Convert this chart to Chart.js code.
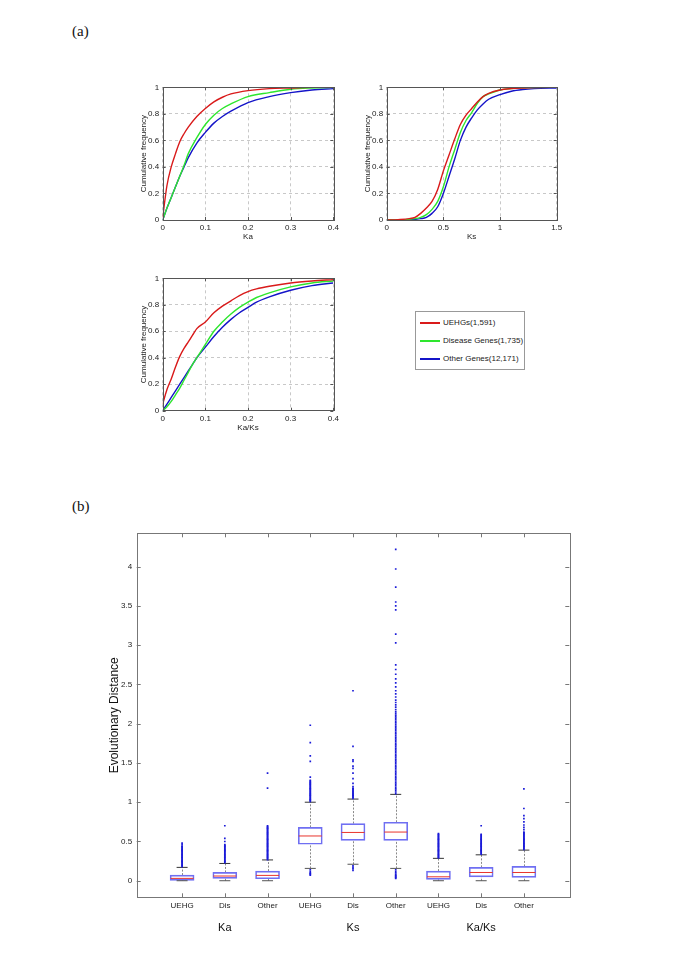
<!DOCTYPE html>
<html>
<head>
<meta charset="utf-8">
<script src="https://cdn.jsdelivr.net/npm/chart.js@4.4.0/dist/chart.umd.min.js"></script>
<style>
  html, body { margin:0; padding:0; background:#fff; }
  body { width:685px; height:969px; position:relative; overflow:hidden; font-family: Arial, "Liberation Sans", sans-serif; }
  canvas { position:absolute; }
  .panel { position:absolute; font-family: "Liberation Serif", "Times New Roman", serif; font-size:15px; color:#111; }
  #legend { position:absolute; left:415px; top:311px; width:108px; height:57px; border:1px solid #999; background:#fff; font-size:8px; color:#222; }
  .lrow { position:absolute; left:4px; height:10px; line-height:10px; width:104px; }
  .lline { position:absolute; left:0; top:4px; width:20px; height:1.5px; }
  .ltext { position:absolute; left:23px; top:0; white-space:nowrap; }
</style>
</head>
<body>
<div class="panel" style="left:72px; top:23px;">(a)</div>
<div class="panel" style="left:72px; top:498px;">(b)</div>

<canvas id="c1" width="240" height="180" style="left:120px; top:70px;"></canvas>
<canvas id="c2" width="240" height="180" style="left:344px; top:70px;"></canvas>
<canvas id="c3" width="240" height="180" style="left:120px; top:261px;"></canvas>
<div id="legend"></div>
<canvas id="c4" width="540" height="430" style="left:60px; top:520px;"></canvas>

<script>
// ---------------- DATA ----------------
const seriesNames = ['UEHGs(1,591)', 'Disease Genes(1,735)', 'Other Genes(12,171)'];
const seriesColors = ['#d91a1a', '#2ee62e', '#1414c8'];

// Panel (a) Ka
const kaX     = [0,0.01,0.02,0.03,0.04,0.05,0.06,0.08,0.10,0.12,0.14,0.16,0.20,0.25,0.30,0.35,0.40];
const kaRed   = [0.02,0.26,0.40,0.50,0.59,0.65,0.70,0.78,0.84,0.89,0.925,0.95,0.975,0.99,0.995,1,1];
const kaGreen = [0,0.09,0.17,0.25,0.33,0.41,0.50,0.62,0.72,0.79,0.84,0.875,0.93,0.96,0.985,0.995,1];
const kaBlue  = [0,0.09,0.17,0.25,0.33,0.40,0.47,0.58,0.66,0.73,0.78,0.82,0.885,0.93,0.96,0.98,0.99];

// Panel (a) Ks
const ksX     = [0,0.1,0.2,0.25,0.3,0.35,0.4,0.45,0.5,0.55,0.6,0.65,0.7,0.75,0.8,0.85,0.9,1.0,1.1,1.2,1.3,1.5];
const ksRed   = [0,0.003,0.01,0.02,0.05,0.09,0.14,0.23,0.37,0.49,0.61,0.72,0.79,0.84,0.89,0.93,0.955,0.98,0.99,0.995,0.998,1];
const ksGreen = [0,0,0.005,0.01,0.02,0.04,0.08,0.14,0.25,0.40,0.53,0.66,0.75,0.81,0.88,0.93,0.95,0.98,0.99,0.997,0.999,1];
const ksBlue  = [0,0,0.002,0.005,0.01,0.02,0.05,0.10,0.20,0.33,0.46,0.60,0.70,0.77,0.83,0.875,0.91,0.945,0.97,0.983,0.99,0.995];

// Panel (a) Ka/Ks
const kksX     = [0,0.01,0.02,0.03,0.04,0.05,0.06,0.07,0.08,0.10,0.12,0.14,0.16,0.18,0.20,0.22,0.25,0.30,0.35,0.40];
const kksRed   = [0.05,0.16,0.24,0.33,0.41,0.47,0.52,0.57,0.62,0.67,0.74,0.79,0.83,0.87,0.90,0.92,0.94,0.965,0.98,0.99];
const kksGreen = [0,0.03,0.07,0.12,0.17,0.23,0.29,0.35,0.40,0.50,0.60,0.67,0.73,0.78,0.82,0.855,0.89,0.935,0.965,0.98];
const kksBlue  = [0,0.05,0.10,0.15,0.20,0.25,0.30,0.35,0.40,0.48,0.56,0.63,0.69,0.74,0.78,0.82,0.86,0.91,0.945,0.965];

// Panel (b) box plot
const boxLabels = ['UEHG','Dis','Other','UEHG','Dis','Other','UEHG','Dis','Other'];
const boxPos    = [1,2,3,4,5,6,7,8,9];
const groupLabels = ['Ka','Ks','Ka/Ks'];
const groupPos    = [2,5,8];
const boxQ1   = [0.005,0.03,0.025,0.465,0.515,0.515,0.017,0.05,0.043];
const boxMed  = [0.03,0.06,0.068,0.57,0.615,0.62,0.05,0.105,0.105];
const boxQ3   = [0.072,0.106,0.123,0.68,0.728,0.745,0.123,0.17,0.183];
const whiskLo = [0,0,0,0.157,0.21,0.157,0,0,0];
const whiskHi = [0.17,0.22,0.265,1.0,1.04,1.10,0.285,0.33,0.39];

const outKaUEHG = [0.18,0.19,0.2,0.21,0.22,0.23,0.24,0.25,0.26,0.27,0.28,0.29,0.3,0.31,0.32,0.33,0.34,0.35,0.36,0.37,0.38,0.39,0.4,0.41,0.42,0.43,0.44,0.46,0.48];
const outKaDis  = [0.23,0.24,0.25,0.26,0.27,0.28,0.29,0.3,0.31,0.32,0.33,0.34,0.35,0.36,0.37,0.38,0.39,0.4,0.41,0.42,0.43,0.44,0.45,0.46,0.5,0.54,0.7];
const outKaOther = [0.27,0.28,0.29,0.3,0.31,0.32,0.33,0.34,0.35,0.36,0.37,0.38,0.39,0.4,0.41,0.42,0.43,0.44,0.45,0.46,0.47,0.48,0.49,0.5,0.51,0.52,0.53,0.54,0.55,0.56,0.57,0.58,0.59,0.6,0.61,0.62,0.63,0.64,0.65,0.66,0.67,0.68,0.69,0.7,1.18,1.37];
const outKsUEHG = [0.07,0.08,0.09,0.1,0.12,0.14,1.01,1.02,1.03,1.04,1.05,1.06,1.07,1.08,1.09,1.1,1.11,1.12,1.13,1.14,1.15,1.16,1.17,1.18,1.19,1.2,1.21,1.22,1.23,1.24,1.25,1.26,1.27,1.28,1.32,1.52,1.59,1.76,1.98];
const outKsDis  = [0.13,0.15,0.17,0.19,1.05,1.06,1.07,1.08,1.09,1.1,1.11,1.12,1.13,1.14,1.15,1.16,1.17,1.18,1.2,1.24,1.3,1.37,1.43,1.46,1.52,1.54,1.71,2.42];
const outKsOther = [0.03,0.04,0.05,0.06,0.07,0.08,0.1,0.12,0.14,
  1.11,1.13,1.15,1.17,1.19,1.21,1.23,1.25,1.27,1.29,1.31,1.33,1.35,1.37,1.39,1.41,1.43,1.45,1.47,1.49,1.51,1.53,1.55,1.57,1.59,1.61,1.63,1.65,1.67,1.69,1.71,1.73,1.75,1.77,1.79,1.81,1.83,1.85,1.87,1.89,1.91,1.93,1.95,1.97,1.99,2.01,2.03,2.05,2.07,2.09,2.11,2.13,2.15,2.18,2.21,2.24,2.27,2.3,2.34,2.38,2.42,2.47,2.52,2.57,2.63,2.69,2.75,
  3.03,3.14,3.45,3.5,3.55,3.74,3.97,4.22];
const outKksUEHG = [0.29,0.3,0.31,0.32,0.33,0.34,0.35,0.36,0.37,0.38,0.39,0.4,0.41,0.42,0.43,0.44,0.45,0.46,0.47,0.48,0.49,0.5,0.51,0.52,0.53,0.54,0.55,0.56,0.57,0.58,0.59,0.6];
const outKksDis  = [0.34,0.35,0.36,0.37,0.38,0.39,0.4,0.41,0.42,0.43,0.44,0.45,0.46,0.47,0.48,0.49,0.5,0.51,0.52,0.53,0.54,0.55,0.56,0.57,0.58,0.59,0.7];
const outKksOther = [0.4,0.41,0.42,0.43,0.44,0.45,0.46,0.47,0.48,0.49,0.5,0.51,0.52,0.53,0.54,0.55,0.56,0.57,0.58,0.59,0.6,0.61,0.62,0.65,0.68,0.71,0.75,0.79,0.83,0.92,1.17];
const outliers = [outKaUEHG,outKaDis,outKaOther,outKsUEHG,outKsDis,outKsOther,outKksUEHG,outKksDis,outKksOther];

// ---------------- HELPERS ----------------
Chart.defaults.font.family = 'Arial, "Liberation Sans", sans-serif';
Chart.defaults.color = '#222';
Chart.defaults.animation = false;

const pts = (xs, ys) => xs.map((x, i) => ({x, y: ys[i]}));
const fmt = v => String(Math.round(v * 1000) / 1000);

const framePlugin = {
  id: 'frame',
  afterDraw(chart, args, opts) {
    const {ctx, chartArea: a, scales} = chart;
    ctx.save();
    ctx.strokeStyle = opts.color || '#444';
    ctx.lineWidth = 1;
    ctx.strokeRect(Math.round(a.left) + 0.5, Math.round(a.top) + 0.5, Math.round(a.right - a.left), Math.round(a.bottom - a.top));
    const tl = opts.tick || 3;
    const xs = scales.x, ys = scales.y;
    ctx.beginPath();
    xs.ticks.forEach(t => {
      const px = Math.round(xs.getPixelForValue(t.value)) + 0.5;
      ctx.moveTo(px, a.bottom); ctx.lineTo(px, a.bottom - tl);
      ctx.moveTo(px, a.top); ctx.lineTo(px, a.top + tl);
    });
    ys.ticks.forEach(t => {
      const py = Math.round(ys.getPixelForValue(t.value)) + 0.5;
      ctx.moveTo(a.left, py); ctx.lineTo(a.left + tl, py);
      ctx.moveTo(a.right, py); ctx.lineTo(a.right - tl, py);
    });
    ctx.stroke();
    ctx.restore();
  }
};

function cdfChart(id, xArr, reds, greens, blues, xMax, xStep, xTitle, padRight, xHeight) {
  return new Chart(document.getElementById(id), {
    type: 'line',
    data: {
      datasets: [
        {label: seriesNames[0], data: pts(xArr, reds), borderColor: seriesColors[0]},
        {label: seriesNames[1], data: pts(xArr, greens), borderColor: seriesColors[1]},
        {label: seriesNames[2], data: pts(xArr, blues), borderColor: seriesColors[2]}
      ]
    },
    options: {
      responsive: false,
      devicePixelRatio: 1,
      animation: false,
      layout: {padding: {left: 0, top: 17.3, right: padRight, bottom: 0}},
      elements: {line: {borderWidth: 1.4, cubicInterpolationMode: 'monotone'}, point: {radius: 0}},
      plugins: {legend: {display: false}, tooltip: {enabled: false}, frame: {color: '#555', tick: 3}},
      scales: {
        x: {
          type: 'linear', min: 0, max: xMax,
          ticks: {stepSize: xStep, font: {size: 8}, padding: 3, maxRotation: 0, callback: fmt},
          grid: {color: '#c8c8c8', drawTicks: false},
          border: {display: false, dash: [3, 3]},
          title: {display: true, text: xTitle, font: {size: 8}, padding: {top: 0, bottom: 8.2}},
          afterFit: s => { s.height = xHeight; }
        },
        y: {
          type: 'linear', min: 0, max: 1,
          ticks: {stepSize: 0.2, font: {size: 8}, padding: 3.5, callback: fmt},
          grid: {color: '#c8c8c8', drawTicks: false},
          border: {display: false, dash: [3, 3]},
          title: {display: true, text: 'Cumulative frequency', font: {size: 8}, padding: {top: 18.5, bottom: 0}},
          afterFit: s => { s.width = 42.7; }
        }
      }
    },
    plugins: [framePlugin]
  });
}

cdfChart('c1', kaX, kaRed, kaGreen, kaBlue, 0.4, 0.1, 'Ka', 26.7, 30);
cdfChart('c2', ksX, ksRed, ksGreen, ksBlue, 1.5, 0.5, 'Ks', 27.3, 30);
cdfChart('c3', kksX, kksRed, kksGreen, kksBlue, 0.4, 0.1, 'Ka/Ks', 26.7, 30.3);

// Legend (HTML)
const leg = document.getElementById('legend');
seriesNames.forEach((n, i) => {
  const row = document.createElement('div');
  row.className = 'lrow';
  row.style.top = (6 + i * 18) + 'px';
  const line = document.createElement('div');
  line.className = 'lline';
  line.style.background = seriesColors[i];
  const txt = document.createElement('div');
  txt.className = 'ltext';
  txt.textContent = n;
  row.appendChild(line);
  row.appendChild(txt);
  leg.appendChild(row);
});

// ---------------- BOX PLOT ----------------
const whiskerPlugin = {
  id: 'whiskers',
  beforeDatasetsDraw(chart) {
    const {ctx, scales: {x, y}} = chart;
    ctx.save();
    ctx.strokeStyle = '#8a8a8a';
    ctx.lineWidth = 1;
    ctx.setLineDash([2, 1.5]);
    boxPos.forEach((p, i) => {
      const px = Math.round(x.getPixelForValue(p)) + 0.5;
      ctx.beginPath();
      ctx.moveTo(px, y.getPixelForValue(boxQ3[i]));
      ctx.lineTo(px, y.getPixelForValue(whiskHi[i]));
      ctx.moveTo(px, y.getPixelForValue(whiskLo[i]));
      ctx.lineTo(px, y.getPixelForValue(boxQ1[i]));
      ctx.stroke();
    });
    ctx.restore();
  },
  afterDraw(chart) {
    const {ctx, scales: {x}} = chart;
    ctx.save();
    ctx.fillStyle = '#111';
    ctx.font = '11px Arial, "Liberation Sans", sans-serif';
    ctx.textAlign = 'center';
    ctx.textBaseline = 'middle';
    groupLabels.forEach((g, i) => ctx.fillText(g, x.getPixelForValue(groupPos[i]), 408));
    ctx.restore();
  }
};

const outlierData = [];
outliers.forEach((arr, i) => arr.forEach(v => outlierData.push({x: boxPos[i], y: v})));

new Chart(document.getElementById('c4'), {
  type: 'bar',
  data: {
    datasets: [
      {
        type: 'line', label: 'outliers', data: outlierData, showLine: false,
        pointStyle: 'rect', pointRadius: 1.2, pointBackgroundColor: '#1a1ad8', pointBorderWidth: 0, order: 0
      },
      {
        type: 'bar', label: 'box', data: boxPos.map((p, i) => ({x: p, y: [boxQ1[i], boxQ3[i]]})),
        backgroundColor: 'rgba(255,255,255,0)', borderColor: '#6f6ff2', borderWidth: 1, borderSkipped: false,
        barThickness: 24, order: 3
      },
      {
        type: 'line', label: 'median', data: boxPos.map((p, i) => ({x: p, y: boxMed[i]})), showLine: false,
        pointStyle: 'line', pointRadius: 11.5, pointBorderColor: '#e8342c', pointBorderWidth: 1, order: 1
      },
      {
        type: 'line', label: 'capHi', data: boxPos.map((p, i) => ({x: p, y: whiskHi[i]})), showLine: false,
        pointStyle: 'line', pointRadius: 5.5, pointBorderColor: '#333', pointBorderWidth: 1, order: 2
      },
      {
        type: 'line', label: 'capLo', data: boxPos.map((p, i) => ({x: p, y: whiskLo[i]})), showLine: false,
        pointStyle: 'line', pointRadius: 5.5, pointBorderColor: '#555', pointBorderWidth: 1, order: 2
      }
    ]
  },
  options: {
    responsive: false,
    devicePixelRatio: 1,
    animation: false,
    layout: {padding: {left: 0, top: 13.3, right: 30.7, bottom: 0}},
    plugins: {legend: {display: false}, tooltip: {enabled: false}, frame: {color: '#777', tick: 4}},
    scales: {
      x: {
        type: 'linear', min: 0.5, max: 9.5,
        afterBuildTicks: s => { s.ticks = boxPos.map(v => ({value: v})); },
        ticks: {font: {size: 8}, padding: 4, maxRotation: 0, autoSkip: false, callback: v => boxLabels[Math.round(v) - 1]},
        grid: {display: false, drawTicks: false},
        border: {display: false},
        afterFit: s => { s.height = 52.7; }
      },
      y: {
        type: 'linear', min: -0.211, max: 4.425,
        ticks: {stepSize: 0.5, includeBounds: false, font: {size: 8}, padding: 4.5, callback: fmt},
        grid: {display: false, drawTicks: false},
        border: {display: false},
        title: {display: true, text: 'Evolutionary Distance', font: {size: 12}, color: '#111', padding: {top: 47.8, bottom: 0}},
        afterFit: s => { s.width = 76.7; }
      }
    }
  },
  plugins: [whiskerPlugin, framePlugin]
});
</script>
</body>
</html>
